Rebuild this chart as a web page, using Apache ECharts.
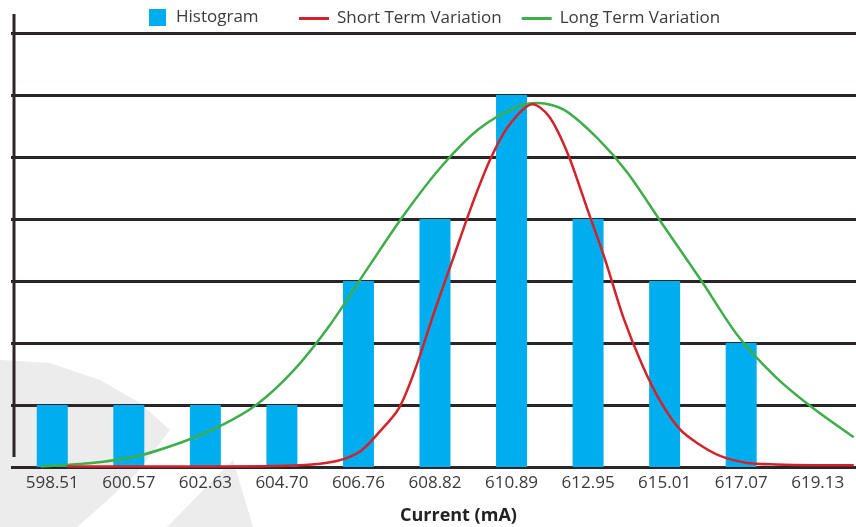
<!DOCTYPE html>
<html>
<head>
<meta charset="utf-8">
<script src="https://cdn.jsdelivr.net/npm/echarts@6/dist/echarts.min.js"></script>
<style>
  html, body { margin: 0; padding: 0; background: #fff; }
  #chart { width: 856px; height: 527px; }
</style>
</head>
<body>
<div id="chart"></div>
<script>
// histogram bins (mA) and counts
var categories = ['598.51', '600.57', '602.63', '604.70', '606.76', '608.82', '610.89', '612.95', '615.01', '617.07', '619.13'];
var histogram = [1, 1, 1, 1, 3, 4, 6, 4, 3, 2, 0];

// curves: [current mA, height]
var shortTerm = [
  [598.9, 0.01], [601.0, 0.01], [603.0, 0.01], [604.5, 0.015], [605.5, 0.04],
  [606.2, 0.1], [606.8, 0.25], [607.3, 0.55], [607.85, 0.95], [608.3, 1.6],
  [608.8, 2.5], [609.3, 3.35], [609.8, 4.2], [610.3, 4.95], [610.8, 5.5],
  [611.45, 5.85], [611.9, 5.65], [612.4, 5.05], [612.9, 4.2], [613.4, 3.35],
  [613.9, 2.4], [614.4, 1.65], [614.9, 1.05], [615.4, 0.62], [615.9, 0.38],
  [616.5, 0.18], [617.2, 0.07], [618.0, 0.04], [619.0, 0.03], [620.1, 0.03]
];
var longTerm = [
  [598.2, 0.01], [599.5, 0.06], [600.7, 0.16], [602.0, 0.4], [603.0, 0.65],
  [604.0, 1.0], [605.0, 1.55], [606.0, 2.3], [607.0, 3.2], [608.0, 4.08],
  [609.0, 4.85], [610.0, 5.45], [611.0, 5.8], [611.6, 5.87], [612.3, 5.76],
  [613.2, 5.3], [614.0, 4.75], [615.0, 3.87], [616.0, 3.0], [617.0, 2.1],
  [618.0, 1.45], [619.0, 0.95], [620.1, 0.48]
];

var axisColor = '#2a2627';
var textColor = '#3a3a3a';
var font = 'Open Sans';

var chart = echarts.init(document.getElementById('chart'));

var option = {
  animation: false,
  textStyle: { fontFamily: font },
  graphic: [
    {
      type: 'polygon', z: -10, silent: true,
      shape: { points: [[0, 360], [50, 363], [100, 380], [140, 403], [170, 430], [137, 473], [100, 507], [77, 527], [0, 527]] },
      style: { fill: '#ececec' }
    },
    {
      type: 'polygon', z: -10, silent: true,
      shape: { points: [[167, 527], [233, 460], [253, 527]] },
      style: { fill: '#ececec' }
    },
    {
      type: 'line', z: 10, silent: true,
      shape: { x1: 14, y1: 14, x2: 14, y2: 457 },
      style: { stroke: axisColor, lineWidth: 3 }
    },
    {
      type: 'text', left: 400, top: 507, silent: true,
      style: { text: 'Current (mA)', fill: '#222', font: 'bold 18px "Open Sans"' }
    }
  ],
  legend: [
    {
      data: ['Histogram'],
      left: 149, top: 9, padding: 0,
      itemWidth: 17, itemHeight: 17,
      icon: 'rect',
      textStyle: { fontSize: 17, color: textColor, fontFamily: font, padding: [0, 0, 0, 5] }
    },
    {
      data: ['Short Term Variation', 'Long Term Variation'],
      left: 299, top: 10, padding: 0,
      itemWidth: 30, itemHeight: 3, itemGap: 20,
      icon: 'rect',
      textStyle: { fontSize: 17, color: textColor, fontFamily: font, padding: [0, 0, 0, 3] }
    }
  ],
  grid: { left: 14, right: -2, top: 33, bottom: 60 },
  xAxis: [
    {
      type: 'category',
      data: categories,
      axisLine: { lineStyle: { color: axisColor, width: 3 } },
      axisTick: { show: false },
      axisLabel: { color: textColor, fontSize: 17, margin: 8, fontFamily: font }
    },
    {
      type: 'value',
      show: false,
      min: 597.479,
      max: 620.161
    }
  ],
  yAxis: {
    type: 'value',
    min: 0, max: 7, interval: 1,
    axisLine: { show: false },
    axisTick: { show: true, length: 3, lineStyle: { color: axisColor, width: 3 } },
    axisLabel: { show: false },
    splitLine: { lineStyle: { color: axisColor, width: 3 } }
  },
  series: [
    {
      name: 'Histogram',
      type: 'bar',
      data: histogram,
      barWidth: 31,
      itemStyle: { color: '#00aeef' },
      z: 2
    },
    {
      name: 'Short Term Variation',
      type: 'line',
      xAxisIndex: 1,
      data: shortTerm,
      smooth: 0.3,
      symbol: 'none',
      lineStyle: { color: '#d2232a', width: 2.5 },
      itemStyle: { color: '#d2232a' },
      z: 4
    },
    {
      name: 'Long Term Variation',
      type: 'line',
      xAxisIndex: 1,
      data: longTerm,
      smooth: 0.3,
      symbol: 'none',
      lineStyle: { color: '#3dae49', width: 2.5 },
      itemStyle: { color: '#3dae49' },
      z: 3
    }
  ]
};

chart.setOption(option);
</script>
</body>
</html>
